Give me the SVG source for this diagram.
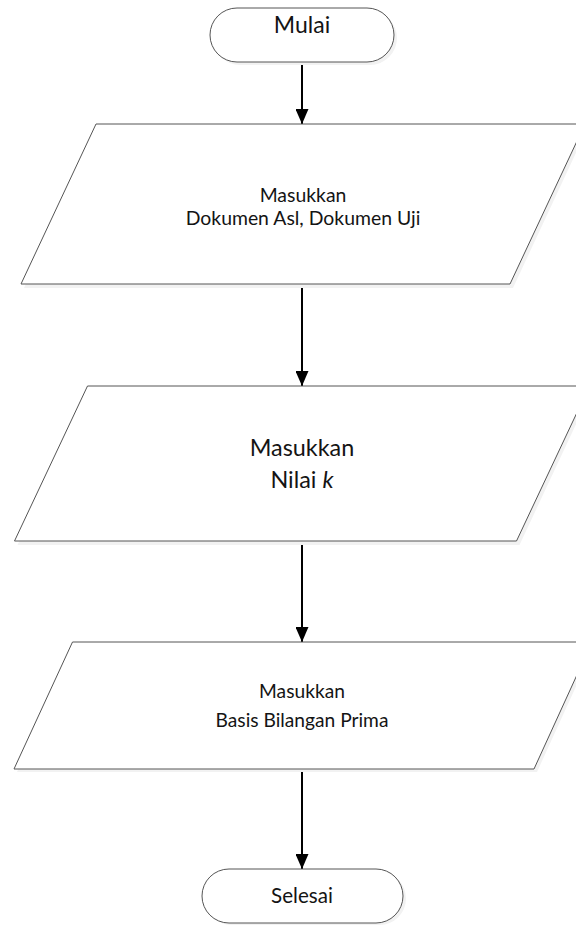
<svg xmlns="http://www.w3.org/2000/svg" width="576" height="925" viewBox="0 0 576 925">
  <style>
    .shape { fill: #ffffff; stroke: #555555; stroke-width: 1; }
    .shadow { fill: #f2f2f2; stroke: none; }
    .label { font-family: Lato, "Open Sans", "Liberation Sans", sans-serif; fill: #141414; text-anchor: middle; }
    .flow { stroke: #000000; stroke-width: 2; fill: none; marker-end: url(#head); }
  </style>
  <defs>
    <!-- solid triangular arrowhead, tip on the line end -->
    <marker id="head" viewBox="0 0 15 13" refX="15" refY="6.5" markerWidth="15" markerHeight="13" markerUnits="userSpaceOnUse" orient="auto">
      <path d="M0,0 L15,6.5 L0,13 z" fill="#000000"/>
    </marker>
  </defs>
  <rect width="576" height="925" fill="#ffffff"/>

  <g id="connectors">
    <line class="flow" x1="302" y1="62" x2="302" y2="124"/>
    <line class="flow" x1="302" y1="284" x2="302" y2="386"/>
    <line class="flow" x1="302" y1="541" x2="302" y2="642"/>
    <line class="flow" x1="302" y1="769" x2="302" y2="869"/>
  </g>

  <g id="mulai">
    <rect class="shadow" x="213" y="11" width="184" height="54" rx="27" ry="27"/>
    <rect class="shape" x="210" y="8" width="184" height="54" rx="27" ry="27"/>
    <text class="label" x="302" y="33" font-size="23">Mulai</text>
  </g>

  <g id="input-dokumen">
    <polygon class="shadow" points="99,127 588,127 513,288 24,288"/>
    <polygon class="shape" points="96,124 585,124 510,284 21,284"/>
    <text class="label" x="303" y="202" font-size="19.4">Masukkan</text>
    <text class="label" x="303" y="225" font-size="19.4">Dokumen Asl, Dokumen Uji</text>
  </g>

  <g id="input-k">
    <polygon class="shadow" points="90.5,389 592.5,389 519.5,545 17.5,545"/>
    <polygon class="shape" points="87.5,386 589.5,386 516.5,541 14.5,541"/>
    <text class="label" x="302" y="456" font-size="23.4">Masukkan</text>
    <text class="label" x="302" y="488" font-size="23.4">Nilai <tspan font-style="italic">k</tspan></text>
  </g>

  <g id="input-basis">
    <polygon class="shadow" points="75.5,645 595,645 537,772 17,772"/>
    <polygon class="shape" points="72.5,642 592,642 534,769 14,769"/>
    <text class="label" x="302" y="698" font-size="19.2">Masukkan</text>
    <text class="label" x="302" y="727" font-size="19.2">Basis Bilangan Prima</text>
  </g>

  <g id="selesai">
    <rect class="shadow" x="205" y="872" width="201" height="53" rx="26.5" ry="26.5"/>
    <rect class="shape" x="202" y="869" width="201" height="54" rx="27" ry="27"/>
    <text class="label" x="302" y="903" font-size="20.6">Selesai</text>
  </g>
</svg>
